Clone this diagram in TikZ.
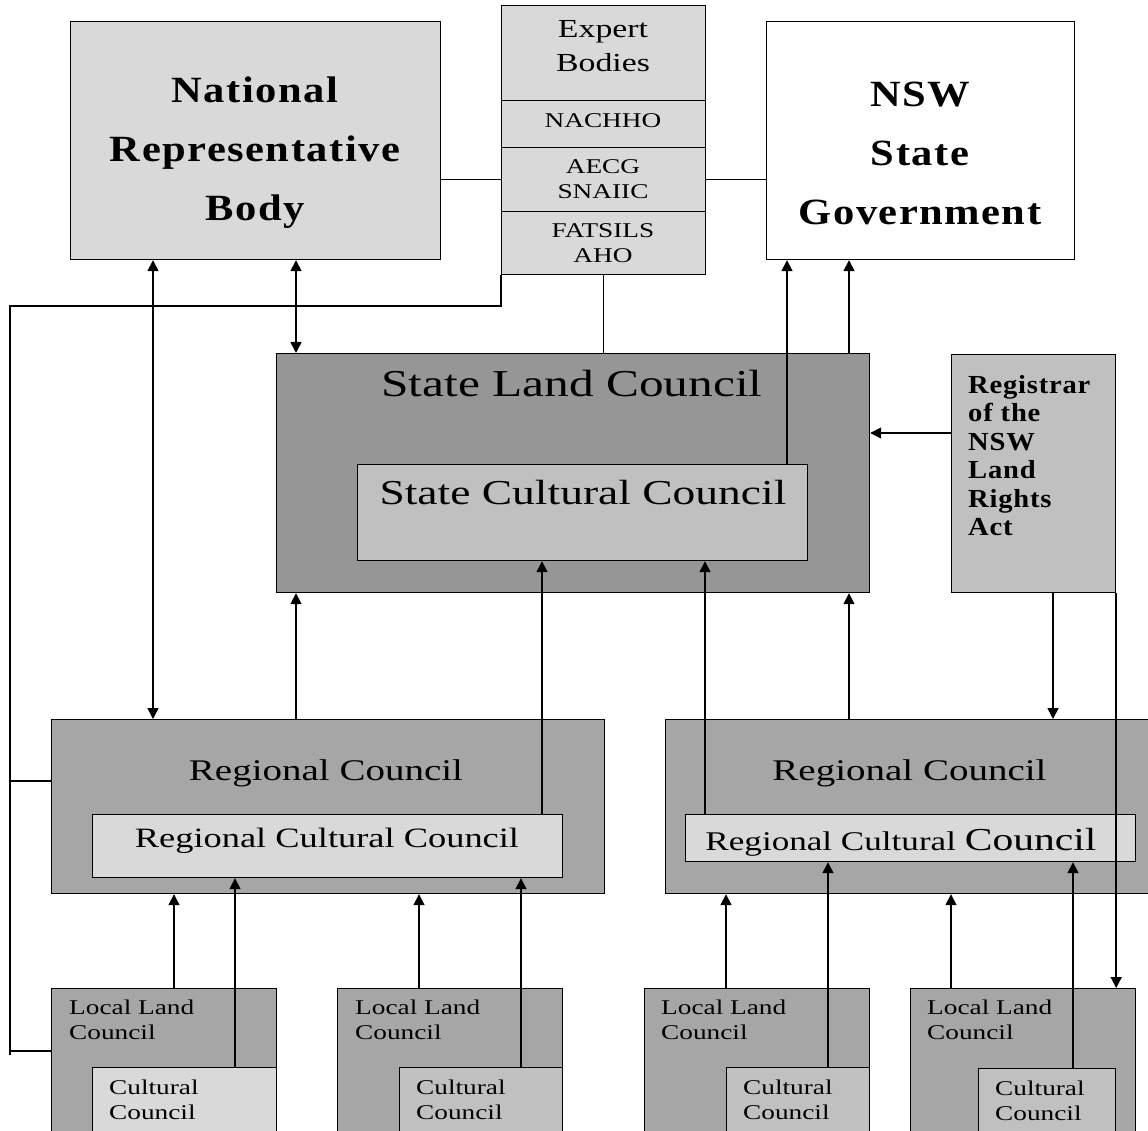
\documentclass[tikz,border=0pt]{standalone}
\usepackage{fontspec}
\setmainfont{Liberation Serif}[FakeStretch=1.3]
\newfontfamily\widefont{Liberation Serif}[FakeStretch=1.15, LetterSpace=4]
\newfontfamily\regfont{Liberation Serif}[FakeStretch=1.1, LetterSpace=3]
\usetikzlibrary{arrows.meta}
\definecolor{boxlight}{HTML}{D9D9D9}
\definecolor{boxmid}{HTML}{C0C0C0}
\definecolor{boxdark}{HTML}{969696}
\definecolor{boxregion}{HTML}{A6A6A6}
\tikzset{
  box/.style={draw, line width=1.2pt, anchor=north west, inner sep=0pt},
  lbl/.style={inner sep=0pt, align=center},
  lbltl/.style={inner sep=0pt, align=left, anchor=north west},
  link/.style={line width=1.7pt},
  uparrow/.style={link, -{Triangle[length=11pt,width=11pt]}},
  biarrow/.style={link, {Triangle[length=11pt,width=11pt]}-{Triangle[length=11pt,width=11pt]}},
  thinline/.style={line width=1.2pt}
}
\begin{document}
\begin{tikzpicture}[x=1pt,y=-1pt]
\path[use as bounding box, fill=white] (0,0) rectangle (1148,1131);

% top row
\node[box, fill=boxlight, minimum width=370pt, minimum height=238pt] (nrb) at (70,21) {};
\node[box, fill=boxlight, minimum width=204pt, minimum height=95pt] (expert) at (501,5) {};
\node[box, fill=boxlight, minimum width=204pt, minimum height=47pt] (nachho) at (501,100) {};
\node[box, fill=boxlight, minimum width=204pt, minimum height=64pt] (aecg) at (501,147) {};
\node[box, fill=boxlight, minimum width=204pt, minimum height=63pt] (fatsils) at (501,211) {};
\node[box, fill=white, minimum width=308pt, minimum height=238pt] (nsw) at (766,21) {};

% state level
\node[box, fill=boxdark, minimum width=593pt, minimum height=239pt] (slc) at (276,353) {};
\node[box, fill=boxmid, minimum width=450pt, minimum height=96pt] (scc) at (357,464) {};
\node[box, fill=boxmid, minimum width=164pt, minimum height=238pt] (reg) at (951,354) {};

% regional level
\node[box, fill=boxregion, minimum width=553pt, minimum height=174pt] (rc1) at (51,719) {};
\node[box, fill=boxlight, minimum width=470pt, minimum height=63pt] (rcc1) at (92,814) {};
\node[box, fill=boxregion, minimum width=490pt, minimum height=174pt] (rc2) at (665,719) {};
\node[box, fill=boxlight, minimum width=450pt, minimum height=47pt] (rcc2) at (685,814) {};

% local level
\node[box, fill=boxregion, minimum width=225pt, minimum height=152pt] (llc1) at (51,988) {};
\node[box, fill=boxlight, minimum width=184pt, minimum height=73pt] (cc1) at (92,1067) {};
\node[box, fill=boxregion, minimum width=225pt, minimum height=152pt] (llc2) at (337,988) {};
\node[box, fill=boxmid, minimum width=163pt, minimum height=73pt] (cc2) at (399,1067) {};
\node[box, fill=boxregion, minimum width=225pt, minimum height=152pt] (llc3) at (644,988) {};
\node[box, fill=boxmid, minimum width=143pt, minimum height=73pt] (cc3) at (726,1067) {};
\node[box, fill=boxregion, minimum width=225pt, minimum height=152pt] (llc4) at (910,988) {};
\node[box, fill=boxmid, minimum width=137pt, minimum height=72pt] (cc4) at (978,1068) {};

% texts
\node[lbl, font={\widefont\bfseries\fontsize{37}{59}\selectfont}] (nrbtext) at (255,153) {National\\Representative\\Body};
\node[lbl, font={\widefont\bfseries\fontsize{37}{59}\selectfont}] (nswtext) at (920,153) {NSW\\State\\Government};
\node[lbl, font={\fontsize{26}{34}\selectfont}] (experttext) at (603,46.5) {Expert\\Bodies};
\node[lbl, font={\fontsize{21}{25}\selectfont}] (nachhotext) at (603,120.5) {NACHHO};
\node[lbl, font={\fontsize{21}{25}\selectfont}] (aecgtext) at (603,179.5) {AECG\\SNAIIC};
\node[lbl, font={\fontsize{21}{25}\selectfont}] (fatsilstext) at (603,243.5) {FATSILS\\AHO};
\node[lbl, font={\fontsize{38}{44}\selectfont}] (slctext) at (572,384) {State Land Council};
\node[lbl, font={\fontsize{35}{40}\selectfont}] (scctext) at (583,493) {State Cultural Council};
\node[lbltl, font={\regfont\bfseries\fontsize{26}{28.5}\selectfont}] (regtext) at (968,375) {Registrar\\of the\\NSW\\Land\\Rights\\Act};
\node[lbl, font={\fontsize{30}{34}\selectfont}] (rc1text) at (326,773.5) {Regional Council};
\node[lbl, font={\fontsize{30}{34}\selectfont}] (rc2text) at (909.5,773.5) {Regional Council};
\node[lbl, font={\fontsize{28}{32}\selectfont}] (rcc1text) at (327,841) {Regional Cultural Council};
\node[lbl, font={\fontsize{27}{32}\selectfont}] (rcc2text) at (901,842) {Regional Cultural {\fontsize{32}{32}\selectfont Council}};
\node[lbltl, font={\fontsize{21}{25}\selectfont}] (llc1text) at (69,1000) {Local Land\\Council};
\node[lbltl, font={\fontsize{21}{25}\selectfont}] (llc2text) at (355,1000) {Local Land\\Council};
\node[lbltl, font={\fontsize{21}{25}\selectfont}] (llc3text) at (661,1000) {Local Land\\Council};
\node[lbltl, font={\fontsize{21}{25}\selectfont}] (llc4text) at (927,1000) {Local Land\\Council};
\node[lbltl, font={\fontsize{21}{25}\selectfont}] (cc1text) at (109,1080) {Cultural\\Council};
\node[lbltl, font={\fontsize{21}{25}\selectfont}] (cc2text) at (416,1080) {Cultural\\Council};
\node[lbltl, font={\fontsize{21}{25}\selectfont}] (cc3text) at (743,1080) {Cultural\\Council};
\node[lbltl, font={\fontsize{21}{25}\selectfont}] (cc4text) at (995,1081) {Cultural\\Council};

% plain links
\coordinate (loopturn) at (10,306);
\coordinate (loopend) at (10,1055);
\draw[thinline] (nrb.east |- aecg.west) -- (aecg.west);
\draw[thinline] (aecg.east) -- (aecg.east -| nsw.west);
\draw[thinline] (fatsils.south west) |- (loopturn) -- (loopend);
\draw[thinline] (loopturn |- 0,781) -- (rc1.west |- 0,781);
\draw[thinline] (loopturn |- 0,1051) -- (llc1.west |- 0,1051);
\draw[thinline] (fatsils.south) -- (fatsils.south |- slc.north);

% arrows to the top row
\draw[biarrow] (153,0 |- nrb.south) -- (153,0 |- rc1.north);
\draw[biarrow] (296,0 |- nrb.south) -- (296,0 |- slc.north);
\draw[uparrow] (787,0 |- scc.north) -- (787,0 |- nsw.south);
\draw[uparrow] (849,0 |- slc.north) -- (849,0 |- nsw.south);

% arrows to the state level
\draw[uparrow] (296,0 |- rc1.north) -- (296,0 |- slc.south);
\draw[uparrow] (542,0 |- rcc1.north) -- (542,0 |- scc.south);
\draw[uparrow] (705,0 |- rcc2.north) -- (705,0 |- scc.south);
\draw[uparrow] (849,0 |- rc2.north) -- (849,0 |- slc.south);
\draw[uparrow] (reg.west |- 0,433) -- (slc.east |- 0,433);
\draw[uparrow] (1053,0 |- reg.south) -- (1053,0 |- rc2.north);
\draw[uparrow] (reg.south east) -- (reg.south east |- llc4.north);

% arrows to the regional level
\draw[uparrow] (174,0 |- llc1.north) -- (174,0 |- rc1.south);
\draw[uparrow] (235,0 |- cc1.north) -- (235,0 |- rcc1.south);
\draw[uparrow] (419,0 |- llc2.north) -- (419,0 |- rc1.south);
\draw[uparrow] (521,0 |- cc2.north) -- (521,0 |- rcc1.south);
\draw[uparrow] (726,0 |- llc3.north) -- (726,0 |- rc2.south);
\draw[uparrow] (828,0 |- cc3.north) -- (828,0 |- rcc2.south);
\draw[uparrow] (951,0 |- llc4.north) -- (951,0 |- rc2.south);
\draw[uparrow] (1073,0 |- cc4.north) -- (1073,0 |- rcc2.south);
\end{tikzpicture}
\end{document}
